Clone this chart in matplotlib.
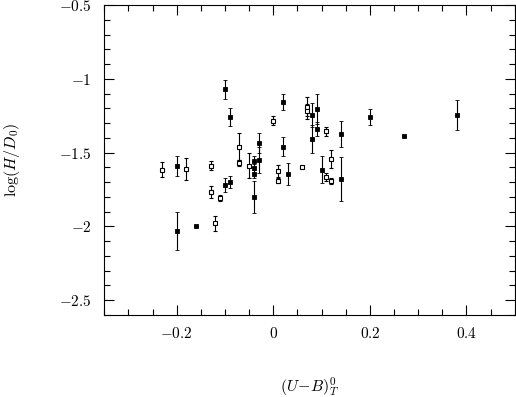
import numpy as np
import matplotlib
matplotlib.use("Agg")
import matplotlib.pyplot as plt
from matplotlib.ticker import MultipleLocator, FuncFormatter

plt.rcParams['mathtext.fontset'] = 'cm'
plt.rcParams['font.family'] = ['DejaVu Serif']

# filled squares
x_filled = [-0.20, -0.20, -0.16, -0.10, -0.10, -0.09, -0.09, -0.04, -0.04, -0.04,
            -0.04, -0.03, -0.03, 0.02, 0.02, 0.03, 0.08, 0.08, 0.09, 0.09,
            0.10, 0.14, 0.14, 0.20, 0.27, 0.38]
y_filled = [-1.59, -2.03, -2.00, -1.07, -1.72, -1.26, -1.70, -1.56, -1.605, -1.645,
            -1.80, -1.435, -1.55, -1.155, -1.46, -1.645, -1.245, -1.41, -1.205, -1.34,
            -1.615, -1.375, -1.68, -1.26, -1.385, -1.245]
err_filled = [0.065, 0.13, 0.0, 0.065, 0.05, 0.06, 0.04, 0.04, 0.03, 0.03,
              0.11, 0.07, 0.09, 0.055, 0.065, 0.075, 0.08, 0.095, 0.10, 0.045,
              0.09, 0.09, 0.15, 0.055, 0.0, 0.10]

# open squares
x_open = [-0.23, -0.18, -0.13, -0.13, -0.12, -0.11, -0.07, -0.07, -0.05, 0.00,
          0.01, 0.01, 0.06, 0.07, 0.07, 0.11, 0.11, 0.12, 0.12]
y_open = [-1.615, -1.61, -1.59, -1.765, -1.98, -1.81, -1.46, -1.57, -1.59, -1.285,
          -1.625, -1.69, -1.60, -1.19, -1.22, -1.355, -1.665, -1.545, -1.69]
err_open = [0.05, 0.075, 0.03, 0.04, 0.05, 0.02, 0.09, 0.02, 0.085, 0.03,
            0.04, 0.015, 0.0, 0.065, 0.05, 0.03, 0.03, 0.06, 0.02]

xlim = (-0.35, 0.5)
ylim = (-2.6, -0.5)

fig = plt.figure(figsize=(5.16, 3.97), dpi=100)
ax = fig.add_axes([0.2021, 0.2065, 0.7955, 0.7809])

ax.errorbar(x_filled, y_filled, yerr=err_filled, fmt='s', color='black',
            ms=2.6, mew=0.6, elinewidth=0.8, capsize=1.1, capthick=0.8)
ax.errorbar(x_open, y_open, yerr=err_open, fmt='s', color='black',
            mfc='white', mec='black', ms=3.0, mew=0.8, elinewidth=0.8,
            capsize=1.1, capthick=0.8)

ax.set_xlim(*xlim)
ax.set_ylim(*ylim)

ax.xaxis.set_major_locator(MultipleLocator(0.2))
ax.xaxis.set_minor_locator(MultipleLocator(0.05))
ax.yaxis.set_major_locator(MultipleLocator(0.5))
ax.yaxis.set_minor_locator(MultipleLocator(0.1))

def fmt(v, pos):
    s = f"{v:g}"
    if s == "-0":
        s = "0"
    return "$" + s + "$"

ax.xaxis.set_major_formatter(FuncFormatter(fmt))
ax.yaxis.set_major_formatter(FuncFormatter(fmt))

ax.tick_params(which='both', direction='in', top=True, right=True,
               width=0.8, labelsize=11)
ax.tick_params(which='major', length=7)
ax.tick_params(which='minor', length=4)
ax.tick_params(axis='x', which='major', pad=8)
ax.tick_params(axis='y', which='major', pad=9)
for sp in ax.spines.values():
    sp.set_linewidth(0.8)

ax.set_xlabel(r'$(U\!-\!B)_T^0$', fontsize=11.5)
ax.set_ylabel(r'$\log(H/D_0)$', fontsize=11.5)
ax.xaxis.set_label_coords(0.5, -0.195)
ax.yaxis.set_label_coords(-0.200, 0.5)

fig.savefig('out.png', dpi=100)
